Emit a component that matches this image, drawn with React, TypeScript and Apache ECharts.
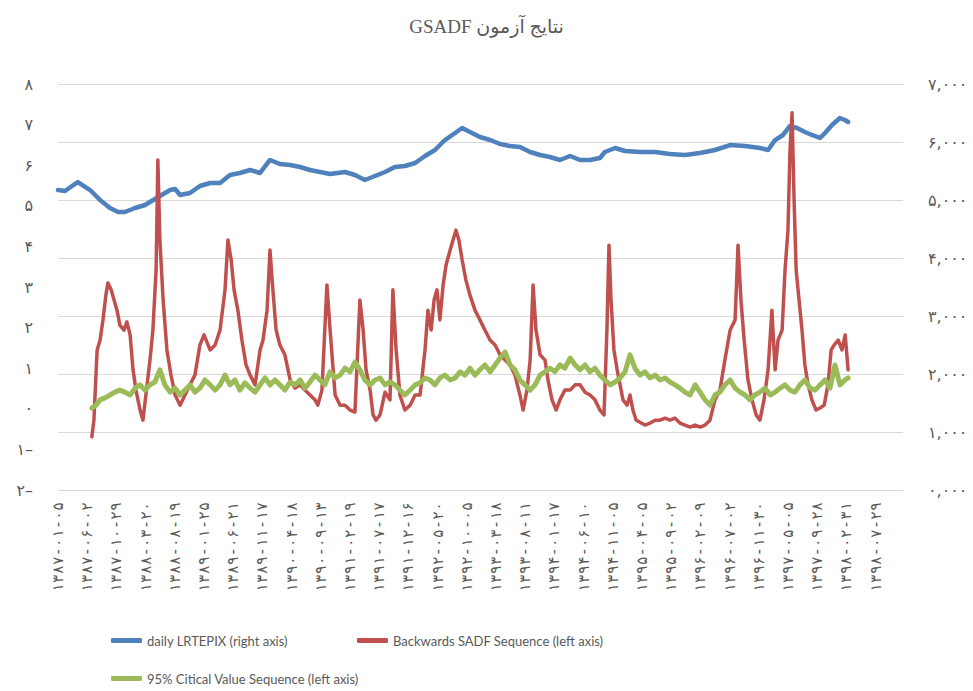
import React, { useEffect, useRef } from "react";
import * as echarts from "echarts";

// x-axis tick labels (one every 100 trading days)
const tickLabels = [
  "۱۳۸۷-۰۱-۰۵", "۱۳۸۷-۰۶-۰۲", "۱۳۸۷-۱۰-۲۹", "۱۳۸۸-۰۳-۲۰", "۱۳۸۸-۰۸-۱۹",
  "۱۳۸۹-۰۱-۲۵", "۱۳۸۹-۰۶-۲۱", "۱۳۸۹-۱۱-۱۷", "۱۳۹۰-۰۴-۱۸", "۱۳۹۰-۰۹-۱۳",
  "۱۳۹۱-۰۲-۱۹", "۱۳۹۱-۰۷-۱۷", "۱۳۹۱-۱۲-۱۶", "۱۳۹۲-۰۵-۲۰", "۱۳۹۲-۱۰-۰۵",
  "۱۳۹۳-۰۳-۱۸", "۱۳۹۳-۰۸-۱۱", "۱۳۹۴-۰۱-۱۷", "۱۳۹۴-۰۶-۱۰", "۱۳۹۴-۱۱-۰۵",
  "۱۳۹۵-۰۴-۰۵", "۱۳۹۵-۰۹-۰۲", "۱۳۹۶-۰۲-۰۹", "۱۳۹۶-۰۷-۰۲", "۱۳۹۶-۱۱-۳۰",
  "۱۳۹۷-۰۵-۰۵", "۱۳۹۷-۰۹-۲۸", "۱۳۹۸-۰۲-۳۱", "۱۳۹۸-۰۷-۲۹",
];
const tickStep = 100;
const dayMax = 2894;

// daily LRTEPIX (right axis)
const indexDays = [0, 24, 48, 68, 89, 110, 144, 178, 206, 229, 264, 298, 315, 332, 349, 384, 401, 418, 452, 486, 521, 555, 589, 623, 658, 692, 726, 760, 795, 829, 863, 897, 932, 983, 1017, 1051, 1086, 1120, 1154, 1188, 1223, 1257, 1291, 1325, 1360, 1384, 1411, 1445, 1480, 1514, 1548, 1582, 1617, 1651, 1685, 1719, 1754, 1788, 1822, 1856, 1873, 1908, 1942, 1993, 2045, 2096, 2147, 2199, 2250, 2302, 2353, 2404, 2432, 2456, 2483, 2507, 2531, 2558, 2582, 2610, 2627, 2651, 2678, 2695, 2706];
const indexValues = [5172, 5155, 5241, 5310, 5241, 5172, 5000, 4862, 4793, 4793, 4862, 4914, 4966, 5017, 5069, 5172, 5190, 5086, 5121, 5241, 5293, 5293, 5431, 5466, 5517, 5466, 5690, 5621, 5603, 5569, 5517, 5483, 5448, 5483, 5431, 5345, 5414, 5483, 5569, 5586, 5638, 5759, 5862, 6034, 6155, 6241, 6172, 6086, 6034, 5966, 5931, 5914, 5828, 5776, 5741, 5690, 5759, 5690, 5690, 5724, 5828, 5897, 5845, 5828, 5828, 5793, 5776, 5810, 5862, 5948, 5931, 5897, 5862, 6034, 6121, 6276, 6241, 6172, 6121, 6069, 6155, 6293, 6414, 6379, 6345];

// Backwards SADF Sequence (left axis)
const sadfDays = [116, 123, 134, 144, 154, 164, 171, 182, 192, 202, 212, 226, 236, 247, 257, 267, 281, 291, 301, 315, 325, 336, 342, 349, 360, 373, 387, 401, 418, 435, 452, 469, 486, 500, 521, 538, 555, 572, 582, 593, 603, 616, 630, 644, 658, 675, 692, 702, 716, 726, 736, 747, 760, 777, 795, 812, 829, 846, 863, 880, 890, 904, 921, 932, 949, 966, 983, 1000, 1017, 1034, 1045, 1055, 1069, 1079, 1089, 1103, 1120, 1137, 1147, 1158, 1171, 1188, 1206, 1223, 1240, 1257, 1267, 1278, 1288, 1298, 1308, 1319, 1329, 1343, 1353, 1363, 1373, 1384, 1397, 1411, 1428, 1445, 1462, 1480, 1497, 1514, 1531, 1548, 1565, 1582, 1593, 1606, 1617, 1627, 1637, 1651, 1668, 1678, 1692, 1706, 1719, 1736, 1754, 1771, 1788, 1805, 1822, 1839, 1856, 1870, 1880, 1887, 1894, 1904, 1915, 1925, 1935, 1949, 1959, 1969, 1980, 1993, 2010, 2028, 2045, 2062, 2079, 2096, 2113, 2130, 2147, 2165, 2182, 2199, 2216, 2233, 2250, 2267, 2284, 2302, 2319, 2329, 2339, 2350, 2363, 2377, 2391, 2404, 2418, 2432, 2445, 2456, 2466, 2480, 2490, 2500, 2507, 2514, 2521, 2528, 2538, 2548, 2558, 2569, 2582, 2596, 2610, 2624, 2637, 2648, 2658, 2672, 2685, 2696, 2706];
const sadfValues = [-0.69, -0.28, 1.45, 1.69, 2.19, 2.8, 3.1, 2.93, 2.68, 2.43, 2.06, 1.94, 2.14, 1.82, 0.96, 0.46, -0.03, -0.28, 0.34, 1.2, 1.94, 3.42, 6.13, 4.16, 2.68, 1.45, 0.83, 0.34, 0.09, 0.34, 0.59, 0.83, 1.57, 1.82, 1.45, 1.57, 1.94, 2.93, 4.16, 3.67, 2.93, 2.43, 1.69, 1.08, 0.83, 0.59, 1.45, 1.69, 2.43, 3.91, 2.93, 1.94, 1.57, 1.33, 0.71, 0.51, 0.59, 0.46, 0.34, 0.22, 0.09, 0.46, 3.05, 1.94, 0.34, 0.09, 0.09, -0.03, -0.08, 2.68, 1.94, 0.96, 0.46, -0.15, -0.28, -0.15, 0.41, 0.22, 2.93, 1.45, 0.34, -0.03, 0.09, 0.34, 0.34, 1.45, 2.43, 1.94, 2.68, 2.93, 2.19, 3.05, 3.54, 3.91, 4.16, 4.4, 4.16, 3.67, 3.17, 2.8, 2.43, 2.19, 1.94, 1.69, 1.57, 1.33, 1.2, 1.08, 0.83, 0.34, -0.03, 0.46, 1.2, 3.05, 1.94, 1.33, 1.2, 0.71, 0.22, -0.03, 0.22, 0.46, 0.46, 0.59, 0.59, 0.41, 0.34, 0.22, -0.03, -0.15, 1.94, 4.03, 2.68, 1.45, 0.96, 0.59, 0.22, 0.09, 0.34, -0.03, -0.28, -0.33, -0.4, -0.35, -0.28, -0.28, -0.23, -0.28, -0.23, -0.35, -0.4, -0.45, -0.4, -0.45, -0.4, -0.28, 0.22, 0.46, 1.2, 1.94, 2.19, 4.03, 2.68, 1.69, 0.71, 0.22, -0.15, -0.28, 0.22, 0.96, 2.43, 0.96, 1.69, 1.94, 3.42, 4.4, 6.37, 7.29, 5.14, 3.42, 2.68, 1.94, 1.08, 0.59, 0.22, -0.03, 0.02, 0.09, 0.59, 1.45, 1.57, 1.69, 1.45, 1.82, 0.96];

// 95% Critical Value Sequence (left axis)
const cvDays = [116, 130, 144, 161, 178, 195, 212, 229, 247, 264, 281, 298, 315, 332, 349, 366, 384, 401, 418, 435, 452, 469, 486, 503, 521, 538, 555, 572, 589, 606, 623, 640, 658, 675, 692, 709, 726, 743, 760, 777, 795, 812, 829, 846, 863, 880, 897, 914, 932, 949, 966, 983, 1000, 1017, 1034, 1051, 1069, 1086, 1103, 1120, 1137, 1154, 1171, 1188, 1206, 1223, 1240, 1257, 1274, 1291, 1308, 1325, 1343, 1360, 1377, 1394, 1411, 1428, 1445, 1462, 1480, 1497, 1514, 1531, 1548, 1565, 1582, 1599, 1617, 1634, 1651, 1668, 1685, 1702, 1719, 1736, 1754, 1771, 1788, 1805, 1822, 1839, 1856, 1873, 1891, 1908, 1925, 1942, 1959, 1976, 1993, 2010, 2028, 2045, 2062, 2079, 2096, 2113, 2130, 2147, 2165, 2182, 2199, 2216, 2233, 2250, 2267, 2284, 2302, 2319, 2336, 2353, 2370, 2387, 2404, 2421, 2439, 2456, 2473, 2490, 2507, 2524, 2541, 2558, 2576, 2593, 2610, 2627, 2644, 2661, 2678, 2695, 2706];
const cvValues = [0.02, 0.09, 0.22, 0.27, 0.34, 0.41, 0.46, 0.41, 0.34, 0.51, 0.59, 0.46, 0.59, 0.66, 0.96, 0.59, 0.41, 0.51, 0.34, 0.46, 0.59, 0.41, 0.51, 0.71, 0.59, 0.46, 0.59, 0.83, 0.59, 0.71, 0.46, 0.64, 0.51, 0.41, 0.59, 0.76, 0.59, 0.71, 0.59, 0.46, 0.66, 0.59, 0.71, 0.51, 0.66, 0.83, 0.71, 0.59, 0.91, 0.76, 0.83, 1.0, 0.91, 1.15, 0.96, 0.71, 0.59, 0.71, 0.76, 0.59, 0.66, 0.59, 0.46, 0.34, 0.46, 0.59, 0.64, 0.76, 0.71, 0.59, 0.76, 0.83, 0.71, 0.76, 0.91, 0.83, 1.0, 0.83, 0.96, 1.08, 0.91, 1.08, 1.25, 1.4, 1.08, 0.96, 0.71, 0.59, 0.46, 0.59, 0.83, 0.91, 1.0, 0.91, 1.08, 1.0, 1.25, 1.08, 0.96, 1.08, 0.91, 1.0, 0.83, 0.71, 0.59, 0.66, 0.76, 0.91, 1.33, 1.0, 0.83, 0.91, 0.76, 0.83, 0.71, 0.76, 0.66, 0.59, 0.51, 0.41, 0.34, 0.59, 0.41, 0.22, 0.09, 0.34, 0.41, 0.59, 0.71, 0.51, 0.41, 0.34, 0.22, 0.34, 0.41, 0.51, 0.34, 0.41, 0.51, 0.59, 0.46, 0.41, 0.59, 0.71, 0.51, 0.46, 0.59, 0.71, 0.51, 1.08, 0.59, 0.71, 0.76];

const seriesNames = [
  "daily LRTEPIX (right axis)",
  "Backwards SADF Sequence (left axis)",
  "95% Citical Value Sequence (left axis)",
];
const colors = ["#4F81BD", "#C0504D", "#9BBB59"];

const faDigits = "۰۱۲۳۴۵۶۷۸۹";
const toFa = (s: string) => s.replace(/[0-9]/g, (d) => faDigits[Number(d)]);
const thousands = (v: number) =>
  `${Math.floor(v / 1000)},${String(v % 1000).padStart(3, "0")}`;

const zip = (xs: number[], ys: number[]) => xs.map((x, i) => [x, ys[i]]);

const TEXT = "#595959";
const LEGEND_FONT = "Lato, 'Open Sans', sans-serif";
const NUM_FONT = "'DejaVu Sans', sans-serif";

export default function App() {
  const ref = useRef<HTMLDivElement>(null);
  useEffect(() => {
    if (!ref.current) return;
    const chart = echarts.init(ref.current, undefined, { renderer: "svg" });
    const legendBase = {
      icon: "roundRect",
      itemHeight: 5,
      padding: 0,
      textStyle: { color: TEXT, fontSize: 13, fontFamily: LEGEND_FONT },
      selectedMode: false,
    };
    chart.setOption({
      animation: false,
      backgroundColor: "#ffffff",
      title: {
        text: "\u202Bنتایج آزمون GSADF\u202C",
        left: "center",
        top: 12,
        textStyle: {
          color: TEXT,
          fontSize: 19,
          fontWeight: "normal",
          fontFamily: "'Liberation Serif', 'DejaVu Sans', serif",
        },
      },
      legend: [
        { ...legendBase, itemWidth: 31, data: [seriesNames[0]], left: 111, top: 634 },
        { ...legendBase, itemWidth: 31, data: [seriesNames[1]], left: 357, top: 634 },
        { ...legendBase, itemWidth: 31, data: [seriesNames[2]], left: 111, top: 672 },
      ],
      grid: { left: 58, right: 70, top: 84, bottom: 201 },
      xAxis: {
        type: "value",
        min: 0,
        max: dayMax,
        axisLine: { show: false },
        axisTick: { show: false },
        splitLine: { show: false },
        axisLabel: {
          customValues: tickLabels.map((_, i) => i * tickStep),
          rotate: 90,
          margin: 12,
          color: TEXT,
          fontSize: 15,
          fontFamily: "'DejaVu Sans Mono', 'DejaVu Sans', monospace",
          formatter: (v: number) => tickLabels[Math.round(v / tickStep)] ?? "",
        },
      },
      yAxis: [
        {
          type: "value",
          min: -2,
          max: 8,
          interval: 1,
          position: "left",
          axisLine: { show: false },
          axisTick: { show: false },
          splitLine: { show: false },
          axisLabel: {
            margin: 25,
            color: TEXT,
            fontSize: 16,
            fontFamily: NUM_FONT,
            formatter: (v: number) => (v < 0 ? toFa(String(-v)) + "–" : toFa(String(v))),
          },
        },
        {
          type: "value",
          min: 0,
          max: 7000,
          interval: 1000,
          position: "right",
          axisLine: { show: false },
          axisTick: { show: false },
          splitLine: { show: true, lineStyle: { color: "#D9D9D9", width: 1 } },
          axisLabel: {
            margin: 25,
            color: TEXT,
            fontSize: 16,
            fontFamily: NUM_FONT,
            formatter: (v: number) => toFa(thousands(v)),
          },
        },
      ],
      series: [
        {
          name: seriesNames[0],
          type: "line",
          yAxisIndex: 1,
          data: zip(indexDays, indexValues),
          showSymbol: false,
          color: colors[0],
          lineStyle: { width: 4.5, color: colors[0], cap: "round", join: "round" },
          z: 2,
        },
        {
          name: seriesNames[1],
          type: "line",
          yAxisIndex: 0,
          data: zip(sadfDays, sadfValues),
          showSymbol: false,
          color: colors[1],
          lineStyle: { width: 3.5, color: colors[1], cap: "round", join: "round" },
          z: 3,
        },
        {
          name: seriesNames[2],
          type: "line",
          yAxisIndex: 0,
          data: zip(cvDays, cvValues),
          showSymbol: false,
          color: colors[2],
          lineStyle: { width: 5, color: colors[2], cap: "round", join: "round" },
          z: 4,
        },
      ],
    });
    return () => chart.dispose();
  }, []);
  return (
    <div
      ref={ref}
      style={{ position: "fixed", left: 0, top: 0, width: 973, height: 691 }}
    />
  );
}
